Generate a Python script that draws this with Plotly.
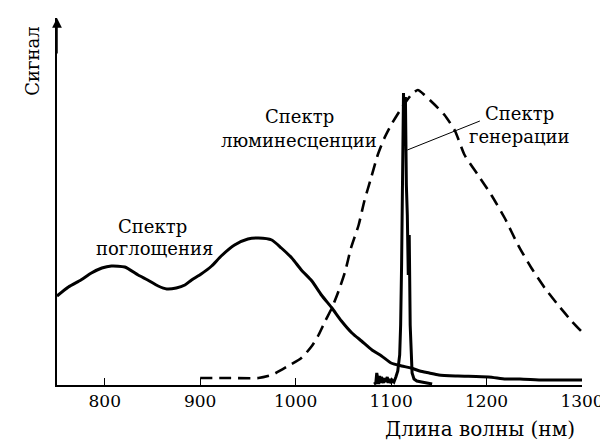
import plotly.graph_objects as go

# Absorption spectrum (solid)
absorption_nm = [750, 762, 775, 786, 797, 807, 821, 835, 845, 856, 865, 875, 884, 891, 901, 912, 922, 936,
                 950, 961, 975, 985, 996, 1006, 1017, 1027, 1038, 1048, 1059, 1069, 1080, 1090, 1100, 1111,
                 1121, 1130, 1140, 1150, 1170, 1202, 1220, 1235, 1260, 1300]
absorption_s = [89, 98, 105, 112, 117, 119, 118, 110, 105, 99, 96, 97, 100, 105, 111, 119, 129, 140,
                146, 147, 145, 137, 127, 115, 104, 90, 77, 64, 52, 44, 35, 29, 22, 19,
                17, 14, 12, 10, 9, 8, 6, 6, 5, 5]

# Luminescence spectrum (dashed)
lum_nm = [900, 930, 961, 975, 992, 1006, 1017, 1024, 1031, 1038, 1045, 1052, 1058, 1066, 1072, 1079, 1086,
          1093, 1100, 1111, 1121, 1128, 1135, 1146, 1156, 1167, 1177, 1191, 1205, 1219, 1233, 1247, 1261,
          1275, 1289, 1300]
lum_s = [7, 7, 7, 10, 19, 27, 39, 50, 64, 77, 94, 114, 137, 160, 184, 207, 230,
         247, 260, 277, 290, 295, 290, 280, 270, 254, 230, 210, 190, 167, 140, 117, 97,
         80, 64, 53]

# Generation spectrum (narrow spike)
gen_nm = [1082, 1084, 1085, 1086, 1087, 1088, 1089, 1090, 1092, 1093, 1094, 1096, 1097, 1098, 1100, 1101,
          1103, 1105, 1107, 1109, 1110, 1111, 1112, 1113, 1114, 1115, 1116, 1117, 1118, 1119, 1120, 1121,
          1122, 1124, 1127, 1132, 1138, 1143]
gen_s = [1, 2, 12, 3, 1, 9, 2, 8, 2, 7, 3, 8, 2, 6, 2, 5,
         3, 8, 14, 30, 60, 120, 200, 292, 250, 288, 200, 170, 110, 150, 60, 25,
         12, 6, 4, 3, 2, 1]

x_ticks = [800, 900, 1000, 1100, 1200, 1300]
x_tick_labels = ["800", "900", "1000", "1100", "1200", "1300"]

FONT = "DejaVu Serif"

fig = go.Figure()
fig.add_trace(go.Scatter(x=absorption_nm, y=absorption_s, mode="lines",
                         line=dict(color="black", width=3, shape="spline", smoothing=0.6)))
fig.add_trace(go.Scatter(x=lum_nm, y=lum_s, mode="lines",
                         line=dict(color="black", width=2.6, dash="12px,7px", shape="spline", smoothing=0.6)))
fig.add_trace(go.Scatter(x=gen_nm, y=gen_s, mode="lines",
                         line=dict(color="black", width=3)))

# pointer line for generation label
fig.add_shape(type="line", x0=1117, y0=235, x1=1193, y1=264, line=dict(color="black", width=1))

labels = [
    (850, 159, "Спектр"), (852, 137, "поглощения"),
    (1004, 269, "Спектр"), (1004, 245, "люминесценции"),
    (1235, 272, "Спектр"), (1235, 249, "генерации"),
]
for x, y, t in labels:
    fig.add_annotation(x=x, y=y, text=t, showarrow=False, font=dict(family=FONT, size=18, color="black"),
                       xanchor="center", yanchor="middle")

# y axis arrow
fig.add_annotation(x=750, y=367, ax=750, ay=330, xref="x", yref="y", axref="x", ayref="y",
                   text="", showarrow=True, arrowhead=2, arrowsize=1.3, arrowwidth=1.5, arrowcolor="black")

fig.add_annotation(x=-0.046, y=0.883, xref="paper", yref="paper", text="Сигнал", textangle=-90,
                   xanchor="center", yanchor="middle",
                   showarrow=False, font=dict(family=FONT, size=18, color="black"))
fig.add_annotation(x=1193, y=-0.12, xref="x", yref="paper", text="Длина волны (нм)",
                   showarrow=False, font=dict(family=FONT, size=20, color="black"),
                   xanchor="center", yanchor="middle")

fig.update_layout(
    width=608, height=441,
    margin=dict(l=49, r=34, t=10, b=64),
    paper_bgcolor="white", plot_bgcolor="white",
    showlegend=False,
    font=dict(family=FONT, size=17, color="black"),
)
fig.update_xaxes(range=[750, 1300], tickvals=x_ticks, ticktext=x_tick_labels, ticks="inside", ticklen=7,
                 tickwidth=1.2, tickcolor="black", showline=True, linecolor="black", linewidth=1.5,
                 showgrid=False, zeroline=False, tickfont=dict(family=FONT, size=17, color="black"))
fig.update_yaxes(range=[0, 367], showticklabels=False, ticks="", showline=True, linecolor="black",
                 linewidth=1.5, showgrid=False, zeroline=False)

fig.write_html("out.html")
